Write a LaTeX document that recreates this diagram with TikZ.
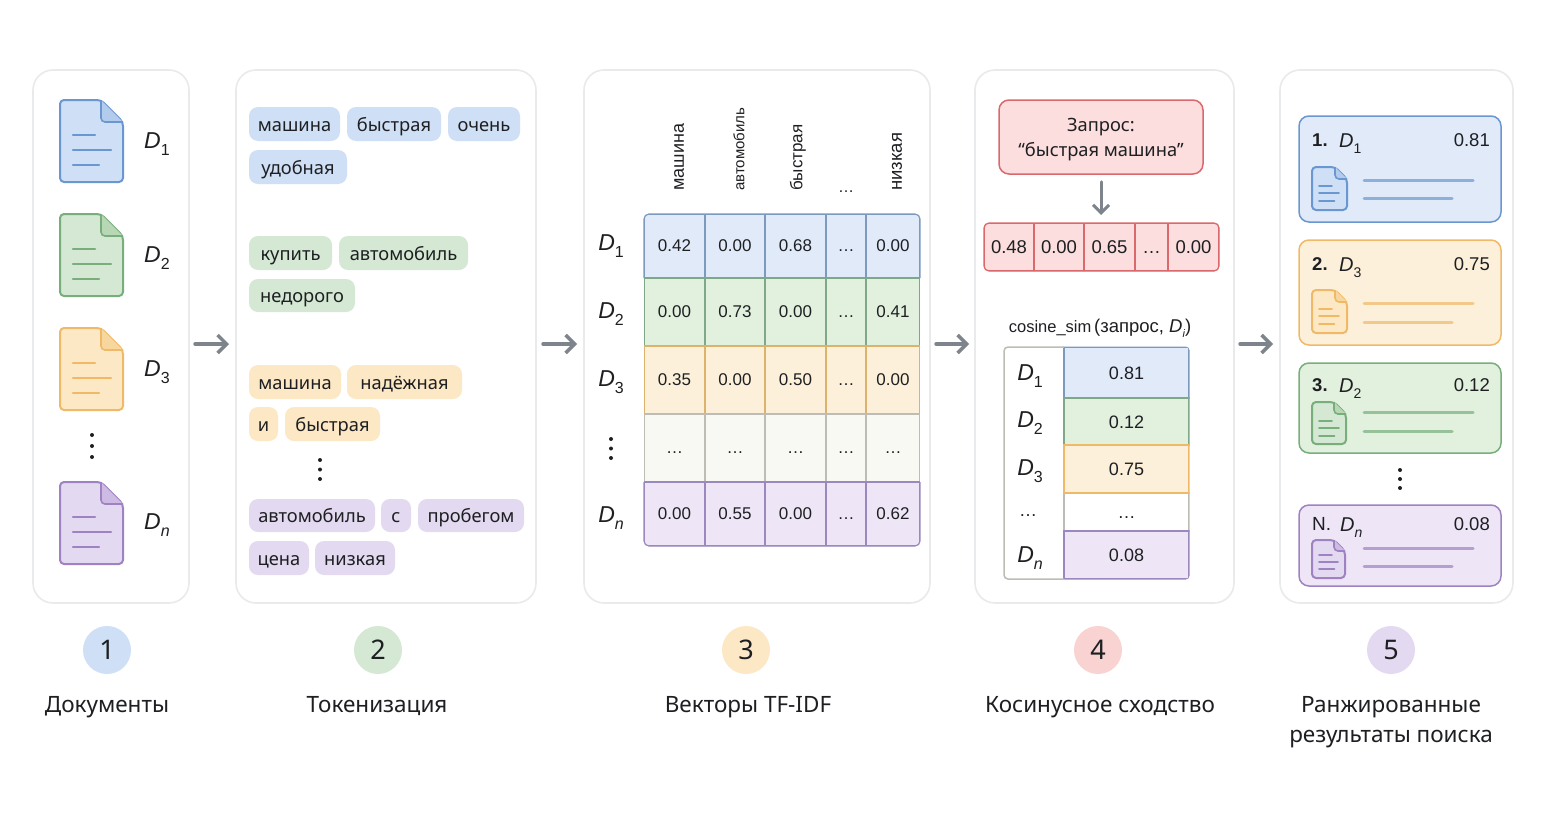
\documentclass[tikz,border=0pt]{standalone}
\usepackage{fontspec}
\setmainfont{Noto Sans}
\newfontfamily\lib{Liberation Sans}
\usetikzlibrary{arrows.meta,calc}
\definecolor{ink}{HTML}{1E1F22}
\definecolor{panelb}{HTML}{E9EAEC}
\definecolor{arrowc}{HTML}{7E848B}
\definecolor{bF}{HTML}{E0EAF9}\definecolor{bD}{HTML}{6A97D0}\definecolor{bT}{HTML}{CFE0F6}\definecolor{bK}{HTML}{B3CCEE}\definecolor{bG}{HTML}{7C9ABD}
\definecolor{gF}{HTML}{E2F0DE}\definecolor{gD}{HTML}{78AE7C}\definecolor{gT}{HTML}{D4E8D3}\definecolor{gK}{HTML}{B7D7B5}\definecolor{gG}{HTML}{7FA888}
\definecolor{oF}{HTML}{FDF0DA}\definecolor{oD}{HTML}{F0B968}\definecolor{oT}{HTML}{FDE8C6}\definecolor{oK}{HTML}{F8D79F}\definecolor{oG}{HTML}{DDB26B}
\definecolor{pF}{HTML}{EEE6F6}\definecolor{pD}{HTML}{9E82C2}\definecolor{pT}{HTML}{E3D9F0}\definecolor{pK}{HTML}{CDBBE3}\definecolor{pG}{HTML}{9B88BE}
\definecolor{rF}{HTML}{FBDEDD}\definecolor{rD}{HTML}{D9696C}\definecolor{rT}{HTML}{F9D3D1}
\definecolor{wG}{HTML}{BDBDB5}\definecolor{wF}{HTML}{F9F9F4}
\tikzset{
  x=1pt,y=-1pt,
  panel/.style={draw=panelb,line width=1.6pt,fill=white,rounded corners=20pt,inner sep=0,outer sep=0},
  flow/.style={draw=arrowc,line width=3.4pt,line cap=round,-{Straight Barb[length=9pt,width=18pt,line width=3.4pt]}},
  tok/.style={rounded corners=9pt,inner sep=0,outer sep=0,text=ink,text height=16pt,text depth=2pt,font=\fontsize{18.3}{22}\selectfont},
  mcell/.style={inner sep=0,outer sep=0,text=ink,text height=12pt,text depth=1.5pt,font=\lib\fontsize{17}{20}\selectfont,line width=1.25pt},
  hdr/.style={rotate=90,anchor=west,inner sep=0,text=ink,font=\lib\fontsize{18}{20}\selectfont},
  dlab/.style={inner sep=0,text=ink,font=\lib\fontsize{23}{26}\selectfont},
  dotm/.style={circle,fill=ink,inner sep=0,minimum size=4pt},
  stepnum/.style={circle,minimum size=48pt,inner sep=0,text=ink,font=\fontsize{27}{30}\selectfont},
  steplab/.style={inner sep=0,text=ink,align=center,font=\fontsize{22.5}{30}\selectfont},
  card/.style={line width=1.5pt,rounded corners=10pt,inner sep=0,outer sep=0},
  cardt/.style={inner sep=0,text=ink,text height=13pt,text depth=0pt,font=\lib\fontsize{18.5}{22}\selectfont},
  gline/.style={line width=3pt,line cap=round,opacity=.7},
}
\newcommand\DD[3]{{\itshape D}\raisebox{-.28em}{\fontsize{#1}{#2}\selectfont #3}}
% x y w h fold base
\newcommand\docicon[6]{%
  \begin{scope}[shift={(#1,#2)}]
    \fill[#6T,rounded corners=4pt] (0,0) -- ({#3-#5},0) -- (#3,#5) -- (#3,#4) -- (0,#4) -- cycle;
    \draw[#6D,line width=2pt,rounded corners=4pt,line join=round] (0,0) -- ({#3-#5},0) -- (#3,#5) -- (#3,#4) -- (0,#4) -- cycle;
    \fill[#6K] ({#3-#5},0) -- (#3,#5) -- ({#3-#5+4},#5) [rounded corners=4pt] -- ({#3-#5},#5) [sharp corners] -- cycle;
    \draw[#6D,line width=1.6pt,rounded corners=4pt] ({#3-#5},0) -- ({#3-#5},#5) -- (#3,#5);
  \end{scope}}
\newcommand\doclines[9]{%
  \draw[#9D,line width=#8pt,line cap=round] (#1,{#2+#5}) -- ++(#3,0);
  \draw[#9D,line width=#8pt,line cap=round] (#1,{#2+#6}) -- ++(#4,0);
  \draw[#9D,line width=#8pt,line cap=round] (#1,{#2+#7}) -- ++({#3*1.18},0);}
% name x1 x2 y1 y2 base text
\newcommand\tokn[7]{\node[tok,fill=#6T,minimum width={(#3-#2)*1pt},minimum height={(#5-#4)*1pt}] (#1) at ({(#2+#3)/2},{(#4+#5)/2}) {#7};}
\newcommand\cel[7]{\node[mcell,draw=#6G,fill=#6F,minimum width={(#3-#2)*1pt},minimum height={(#5-#4)*1pt}] (#1) at ({(#2+#3)/2},{(#4+#5)/2}) {#7};}
\newcommand\mrow[9]{%
  \cel{#1a}{644}{705}{#2}{#3}{#4}{#5}\cel{#1b}{705}{765}{#2}{#3}{#4}{#6}\cel{#1c}{765}{826}{#2}{#3}{#4}{#7}\cel{#1d}{826}{866}{#2}{#3}{#4}{…}\cel{#1e}{866}{920}{#2}{#3}{#4}{#8}}
\newcommand\threedots[4]{%
  \node[dotm,minimum size=4pt] (#1a) at (#2,#3) {};
  \node[dotm] (#1b) at (#2,{#3+#4}) {};
  \node[dotm] (#1c) at (#2,{#3+2*#4}) {};}
\begin{document}
\begin{tikzpicture}
\useasboundingbox (0,0) rectangle (1550,814);
\fill[white] (0,0) rectangle (1550,814);
% panels
\node[panel,minimum width=156pt,minimum height=533pt] (p1) at (111,336.5) {};
\node[panel,minimum width=300pt,minimum height=533pt] (p2) at (386,336.5) {};
\node[panel,minimum width=346pt,minimum height=533pt] (p3) at (757,336.5) {};
\node[panel,minimum width=259pt,minimum height=533pt] (p4) at (1104.5,336.5) {};
\node[panel,minimum width=233pt,minimum height=533pt] (p5) at (1396.5,336.5) {};
% flow arrows
\coordinate (a1s) at (195,344);\coordinate (a1e) at (229,344);
\coordinate (a2s) at (543,344);\coordinate (a2e) at (577,344);
\coordinate (a3s) at (936,344);\coordinate (a3e) at (969,344);
\coordinate (a4s) at (1240,344);\coordinate (a4e) at (1273,344);
\draw[flow] (a1s) -- (a1e);
\draw[flow] (a2s) -- (a2e);
\draw[flow] (a3s) -- (a3e);
\draw[flow] (a4s) -- (a4e);
% documents
\docicon{60}{100}{63}{82}{22}{b}\doclines{73}{100}{22}{38}{35}{50}{65}{2.5}{b}
\docicon{60}{214}{63}{82}{22}{g}\doclines{73}{214}{22}{38}{35}{50}{65}{2.5}{g}
\docicon{60}{328}{63}{82}{22}{o}\doclines{73}{328}{22}{38}{35}{50}{65}{2.5}{o}
\docicon{60}{482}{63}{82}{22}{p}\doclines{73}{482}{22}{38}{35}{50}{65}{2.5}{p}
\node[dlab] (d1) at (157,144) {\DD{16}{18}{1}};
\node[dlab] (d2) at (157,258) {\DD{16}{18}{2}};
\node[dlab] (d3) at (157,372) {\DD{16}{18}{3}};
\node[dlab] (dn) at (157,525) {\DD{16}{18}{\itshape n}};
\threedots{v1}{92}{435}{11}
% tokens
\tokn{t1}{249}{340}{107}{141}{b}{машина}
\tokn{t2}{347}{441}{107}{141}{b}{быстрая}
\tokn{t3}{448}{520}{107}{141}{b}{очень}
\tokn{t4}{249}{347}{150}{184}{b}{удобная}
\tokn{t5}{249}{332}{236}{270}{g}{купить}
\tokn{t6}{339}{468}{236}{270}{g}{автомобиль}
\tokn{t7}{249}{355}{279}{312}{g}{недорого}
\tokn{t8}{249}{341}{365}{399}{o}{машина}
\tokn{t9}{347}{462}{365}{399}{o}{надёжная}
\tokn{t10}{249}{278}{407}{441}{o}{и}
\tokn{t11}{285}{380}{407}{441}{o}{быстрая}
\threedots{v2}{320}{460}{9.5}
\tokn{t12}{249}{375}{499}{532}{p}{автомобиль}
\tokn{t13}{381}{411}{499}{532}{p}{с}
\tokn{t14}{418}{524}{499}{532}{p}{пробегом}
\tokn{t15}{249}{309}{541}{575}{p}{цена}
\tokn{t16}{315}{395}{541}{575}{p}{низкая}
% TF-IDF header
\node[hdr] (h1) at (679,191) {машина};
\node[hdr,font=\lib\fontsize{15}{18}\selectfont] (h2) at (739,191) {автомобиль};
\node[hdr,font=\lib\fontsize{17}{18}\selectfont] (h3) at (798,191) {быстрая};
\node[inner sep=0,text=ink,text height=12pt,text depth=0pt,font=\lib\fontsize{16}{18}\selectfont] (h4) at (846,186) {…};
\node[hdr,font=\lib\fontsize{18.5}{20}\selectfont] (h5) at (897,191) {низкая};
% TF-IDF matrix
\begin{scope}
\clip[rounded corners=5pt] (644,214) rectangle (920,546);
\mrow{ma}{214}{278}{b}{0.42}{0.00}{0.68}{0.00}{}
\mrow{mb}{278}{346}{g}{0.00}{0.73}{0.00}{0.41}{}
\mrow{mc}{346}{414}{o}{0.35}{0.00}{0.50}{0.00}{}
\mrow{md}{414}{482}{w}{…}{…}{…}{…}{}
\mrow{me}{482}{546}{p}{0.00}{0.55}{0.00}{0.62}{}
\end{scope}
\draw[bG,line width=1.2pt,rounded corners=5pt] (920,278) -- (920,214) -- (644,214) -- (644,278);
\draw[pG,line width=1.2pt,rounded corners=5pt] (920,482) -- (920,546) -- (644,546) -- (644,482);
\node[dlab] (rd1) at (611,246) {\DD{16}{18}{1}};
\node[dlab] (rd2) at (611,314) {\DD{16}{18}{2}};
\node[dlab] (rd3) at (611,382) {\DD{16}{18}{3}};
\threedots{v3}{611}{439}{9.5}
\node[dlab] (rdn) at (611,518) {\DD{16}{18}{\itshape n}};
% query
\node[draw=rD,fill=rF,line width=1.5pt,rounded corners=10pt,minimum width=204pt,minimum height=74pt,inner sep=0] (q) at (1101,137) {};
\node[inner sep=0,text=ink,align=center,font=\fontsize{18.3}{25}\selectfont] (qt) at (1101,140) {Запрос:\\“быстрая машина”};
\coordinate (qv) at (1101,223);
\draw[draw=arrowc,line width=3pt,line cap=round,-{Straight Barb[length=8pt,width=16pt,line width=3pt]},shorten <=7pt,shorten >=8pt] (q.south) -- (qv);
\begin{scope}
\clip[rounded corners=5pt] (984,223) rectangle (1219,271);
\tikzset{mcell/.append style={draw=rD,fill=rF,text depth=0pt,font=\lib\fontsize{18.5}{20}\selectfont}}
\node[mcell,minimum width=50pt,minimum height=48pt] (v1c) at (1009,247) {0.48};
\node[mcell,minimum width=50pt,minimum height=48pt] (v2c) at (1059,247) {0.00};
\node[mcell,minimum width=51pt,minimum height=48pt] (v3c) at (1109.5,247) {0.65};
\node[mcell,minimum width=33pt,minimum height=48pt] (v4c) at (1151.5,247) {…};
\node[mcell,minimum width=51pt,minimum height=48pt] (v5c) at (1193.5,247) {0.00};
\end{scope}
\draw[rD,line width=1.3pt,rounded corners=5pt] (984,223) rectangle (1219,271);
% cosine table
\node[inner sep=0,text=ink,font=\lib\fontsize{16.5}{20}\selectfont] (cs) at (1100,328) {cosine\_sim\,{\fontsize{18.5}{20}\selectfont(запрос, {\itshape D}\raisebox{-.25em}{\fontsize{11}{12}\selectfont\itshape i})}};
\begin{scope}
\clip[rounded corners=4pt] (1003.5,346.5) rectangle (1189.6,579.6);
\fill[white] (1004,347) rectangle (1064,579);
\tikzset{mcell/.append style={text height=13pt,text depth=0pt,font=\lib\fontsize{18}{20}\selectfont}}
\cel{c1}{1064}{1189}{347}{398}{b}{0.81}
\cel{c2}{1064}{1189}{398}{445}{g}{0.12}
\node[mcell,draw=wG,fill=white,minimum width=125pt,minimum height=38pt] (c4) at (1126.5,512) {…};
\node[mcell,draw=oD,line width=1.4pt,fill=oF,minimum width=125pt,minimum height=48pt] (c3) at (1126.5,469) {0.75};
\cel{c5}{1064}{1189}{531}{579}{p}{0.08}
\end{scope}
\draw[wG,line width=1.5pt,rounded corners=4pt] (1064,347) -- (1004,347) -- (1004,579) -- (1064,579);
\node[dlab] (cd1) at (1030,376) {\DD{16}{18}{1}};
\node[dlab] (cd2) at (1030,423) {\DD{16}{18}{2}};
\node[dlab] (cd3) at (1030,471) {\DD{16}{18}{3}};
\node[inner sep=0,text=ink,text height=12pt,text depth=1.5pt,font=\lib\fontsize{18}{20}\selectfont] (cd4) at (1028,511) {…};
\node[dlab] (cdn) at (1030,558) {\DD{16}{18}{\itshape n}};
% result cards
\node[card,draw=bD,fill=bF,minimum width=202pt,minimum height=106pt] (r1) at (1400,169) {};
\node[card,draw=oD,fill=oF,minimum width=202pt,minimum height=105pt] (r2) at (1400,292.5) {};
\node[card,draw=gD,fill=gF,minimum width=202pt,minimum height=90pt] (r3) at (1400,408) {};
\node[card,draw=pD,fill=pF,minimum width=202pt,minimum height=81pt] (r4) at (1400,545.5) {};
\node[cardt,anchor=west,font=\lib\bfseries\fontsize{18.5}{22}\selectfont] (r1n) at (1312,140) {1.};
\node[cardt,anchor=west,font=\lib\fontsize{20}{22}\selectfont] (r1d) at (1339,141) {\DD{14}{16}{1}};
\node[cardt,anchor=east] (r1s) at (1490,140) {0.81};
\node[cardt,anchor=west,font=\lib\bfseries\fontsize{18.5}{22}\selectfont] (r2n) at (1312,264) {2.};
\node[cardt,anchor=west,font=\lib\fontsize{20}{22}\selectfont] (r2d) at (1339,265) {\DD{14}{16}{3}};
\node[cardt,anchor=east] (r2s) at (1490,264) {0.75};
\node[cardt,anchor=west,font=\lib\bfseries\fontsize{18.5}{22}\selectfont] (r3n) at (1312,385) {3.};
\node[cardt,anchor=west,font=\lib\fontsize{20}{22}\selectfont] (r3d) at (1339,386) {\DD{14}{16}{2}};
\node[cardt,anchor=east] (r3s) at (1490,385) {0.12};
\node[cardt,anchor=west,font=\lib\fontsize{19}{22}\selectfont] (r4n) at (1312,524) {N.};
\node[cardt,anchor=west,font=\lib\fontsize{20}{22}\selectfont] (r4d) at (1340,525) {\DD{14}{16}{\itshape n}};
\node[cardt,anchor=east] (r4s) at (1490,524) {0.08};
\docicon{1312}{167}{35}{43}{12}{b}\doclines{1319}{167}{13}{20}{19}{26}{34}{1.8}{b}
\docicon{1312}{290}{35}{43}{12}{o}\doclines{1319}{290}{13}{20}{19}{26}{34}{1.8}{o}
\docicon{1312}{402}{34}{42}{12}{g}\doclines{1319}{402}{13}{20}{19}{26}{34}{1.8}{g}
\docicon{1312}{540}{33}{38}{11}{p}\doclines{1319}{540}{13}{19}{15}{22}{29}{1.8}{p}
\draw[bD,gline] (1364,180) -- (1473,180);\draw[bD,gline] (1364,198) -- (1452,198);
\draw[oD,gline] (1364,303) -- (1473,303);\draw[oD,gline] (1364,322) -- (1452,322);
\draw[gD,gline] (1364,412) -- (1473,412);\draw[gD,gline] (1364,431) -- (1452,431);
\draw[pD,gline] (1364,548) -- (1473,548);\draw[pD,gline] (1364,566) -- (1452,566);
\threedots{v5}{1400}{470}{9}
% steps
\node[stepnum,fill=bT] (s1) at (107,650) {1};
\node[stepnum,fill=gT] (s2) at (378,650) {2};
\node[stepnum,fill=oT] (s3) at (746,650) {3};
\node[stepnum,fill=rT] (s4) at (1098,650) {4};
\node[stepnum,fill=pT] (s5) at (1391,650) {5};
\tikzset{steplab/.append style={text height=16pt,text depth=5pt}}
\node[steplab] (l1) at (107,707) {Документы};
\node[steplab] (l2) at (377,707) {Токенизация};
\node[steplab] (l3) at (748,707) {Векторы TF-IDF};
\node[steplab] (l4) at (1100,707) {Косинусное сходство};
\node[steplab] (l5) at (1391,707) {Ранжированные};
\node[steplab] (l6) at (1391,737) {результаты поиска};
\end{tikzpicture}
\end{document}
